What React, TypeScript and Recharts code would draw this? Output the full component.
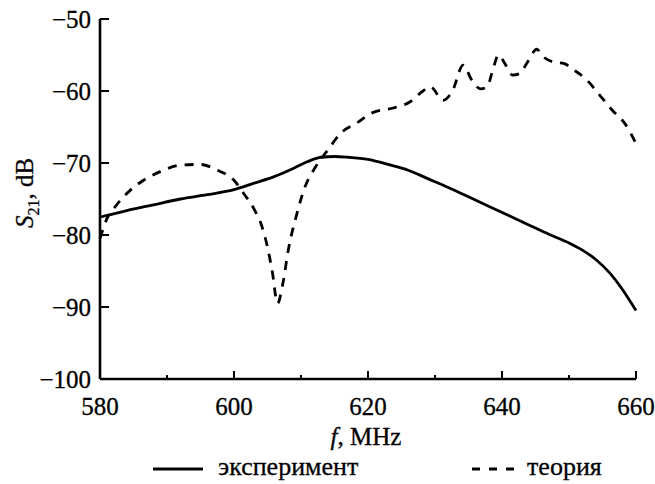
import React from "react";
import { LineChart, Line, XAxis, YAxis, Legend, Label } from "recharts";

const expFreq = [580, 584, 588, 592, 596, 600, 603, 606, 609, 611, 613, 615, 617, 620, 623, 626, 629, 632, 635, 638, 641, 644, 647, 650, 652, 654, 656, 658, 660];
const expS21 = [-77.5, -76.6, -75.8, -75.0, -74.4, -73.7, -72.8, -71.9, -70.7, -69.8, -69.2, -69.1, -69.2, -69.5, -70.2, -71.0, -72.2, -73.4, -74.7, -76.0, -77.3, -78.6, -79.9, -81.1, -82.1, -83.4, -85.2, -87.6, -90.5];

const thFreq = [580, 581, 582.5, 584.5, 586.5, 589, 592, 595, 597.5, 600, 601.5, 603, 604.2, 605, 605.7, 606.5, 607.3, 608.1, 609.4, 610.6, 612, 614, 616, 618.4, 620.7, 623.6, 626.3, 628.2, 629.3, 631.2, 632.6, 634.2, 635.5, 636.8, 637.8, 638.5, 639.5, 640.5, 641.6, 642.6, 643.8, 645.2, 646, 647.8, 649.3, 650.6, 652.7, 654.6, 656.4, 658.4, 660];
const thS21 = [-80.5, -77.8, -75.8, -73.8, -72.4, -71.2, -70.3, -70.2, -71.0, -72.4, -74.3, -76.4, -78.9, -81.7, -85.0, -89.5, -86.7, -82.1, -77.0, -73.3, -70.8, -68.2, -65.8, -64.4, -63.0, -62.4, -61.5, -60.0, -59.4, -61.3, -60.0, -56.4, -58.5, -59.7, -59.4, -57.5, -55.0, -56.3, -57.8, -57.6, -56.0, -54.2, -55.1, -56.0, -56.2, -57.0, -58.5, -60.6, -62.6, -64.6, -67.3];

const xTicks = [580, 590, 600, 610, 620, 630, 640, 650, 660];
const yTicks = [-100, -90, -80, -70, -60, -50];

const seriesNames = ["эксперимент", "теория"];

const expData = expFreq.map((f, i) => ({ f, v: expS21[i] }));
const thData = thFreq.map((f, i) => ({ f, v: thS21[i] }));

const FONT = "Liberation Serif";
const FS = 25;
const TXT = { fontFamily: FONT, fill: "#000", stroke: "#000", strokeWidth: 0.3 };

const XTick = (props: any) => {
  const { x, y, payload } = props;
  const major = payload.value % 20 === 0;
  return (
    <g>
      <line x1={x} y1={y} x2={x} y2={y - (major ? 8 : 4)} stroke="#000" strokeWidth={2} />
      {major && (
        <text x={x} y={y + 36} textAnchor="middle" fontSize={FS} {...TXT}>
          {payload.value}
        </text>
      )}
    </g>
  );
};

const YTick = (props: any) => {
  const { x, y, payload } = props;
  const v = payload.value;
  const label = v < 0 ? "\u2212" + Math.abs(v) : String(v);
  return (
    <g>
      <line x1={x} y1={y} x2={x + 9} y2={y} stroke="#000" strokeWidth={2} />
      <text x={x - 9} y={y + 9} textAnchor="end" fontSize={FS} {...TXT}>
        {label}
      </text>
    </g>
  );
};

const YLabel = (props: any) => {
  const vb = props.viewBox || { x: 0, y: 19, width: 100, height: 360 };
  const cx = 33;
  const cy = vb.y + vb.height / 2 - 6;
  return (
    <text
      x={cx}
      y={cy}
      transform={`rotate(-90, ${cx}, ${cy})`}
      textAnchor="middle"
      fontSize={FS}
      {...TXT}
    >
      <tspan fontStyle="italic">S</tspan>
      <tspan fontSize={16} dy={6}>21</tspan>
      <tspan dy={-6}>, dB</tspan>
    </text>
  );
};

const XLabel = (props: any) => {
  const vb = props.viewBox || { x: 100, y: 379, width: 536, height: 70 };
  const cx = vb.x + vb.width / 2 - 2;
  return (
    <text x={cx} y={vb.y + 66} textAnchor="middle" fontSize={FS} {...TXT}>
      <tspan fontStyle="italic">f</tspan>
      <tspan>, MHz</tspan>
    </text>
  );
};

const LegendContent = () => (
  <div style={{ height: 35, width: 636, position: "relative" }}>
    <svg width={636} height={35} style={{ display: "block" }}>
      <line x1={153} y1={20} x2={203} y2={20} stroke="#000" strokeWidth={2.8} />
      <text x={218} y={26} fontSize={26} {...TXT}>
        {seriesNames[0]}
      </text>
      <line x1={472} y1={20} x2={514} y2={20} stroke="#000" strokeWidth={2.8} strokeDasharray="8 9" />
      <text x={527} y={26} fontSize={26} {...TXT}>
        {seriesNames[1]}
      </text>
    </svg>
  </div>
);

export default function App() {
  return (
    <div style={{ position: "absolute", left: 0, top: 0, width: 655, height: 484, background: "#fff" }}>
      <LineChart width={655} height={484} margin={{ top: 19, right: 19, left: 0, bottom: 0 }}>
        <XAxis
          dataKey="f"
          type="number"
          domain={[580, 660]}
          ticks={xTicks}
          allowDuplicatedCategory={false}
          height={70}
          tickSize={0}
          tickMargin={0}
          tickLine={false}
          tick={<XTick />}
          axisLine={{ stroke: "#000", strokeWidth: 2.6 }}
          interval={0}
        >
          <Label content={<XLabel />} />
        </XAxis>
        <YAxis
          type="number"
          domain={[-100, -50]}
          ticks={yTicks}
          width={100}
          tickSize={0}
          tickMargin={0}
          tickLine={false}
          tick={<YTick />}
          axisLine={{ stroke: "#000", strokeWidth: 2.6 }}
          interval={0}
          allowDataOverflow
        >
          <Label content={<YLabel />} />
        </YAxis>
        <Legend verticalAlign="bottom" content={<LegendContent />} />
        <Line
          data={expData}
          dataKey="v"
          name={seriesNames[0]}
          type="monotone"
          stroke="#000"
          strokeWidth={2.8}
          dot={false}
          isAnimationActive={false}
        />
        <Line
          data={thData}
          dataKey="v"
          name={seriesNames[1]}
          type="monotone"
          stroke="#000"
          strokeWidth={2.8}
          strokeDasharray="9 8"
          dot={false}
          isAnimationActive={false}
        />
      </LineChart>
    </div>
  );
}
